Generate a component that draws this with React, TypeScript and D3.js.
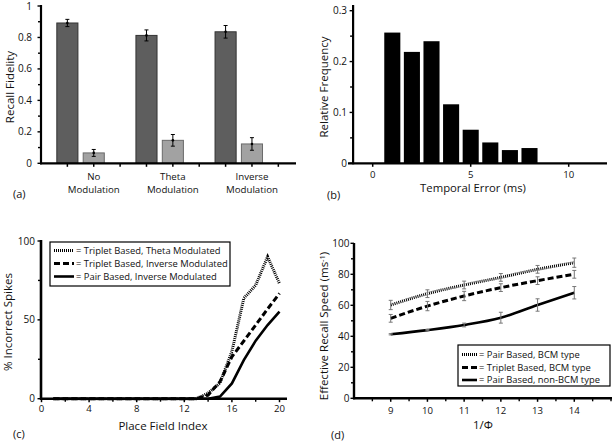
import React, { useEffect, useRef } from 'react';
import * as d3 from 'd3';

// (a) recall fidelity per modulation type
const groupLabels = [['No', 'Modulation'], ['Theta', 'Modulation'], ['Inverse', 'Modulation']];
const fidelityDark = [0.892, 0.813, 0.836];
const fidelityDarkErr = [0.023, 0.035, 0.04];
const fidelityLight = [0.066, 0.146, 0.123];
const fidelityLightErr = [0.022, 0.037, 0.04];

// (b) temporal error histogram
const errorBins = [1, 2, 3, 4, 5, 6, 7, 8];
const errorFreq = [0.257, 0.219, 0.24, 0.116, 0.066, 0.041, 0.026, 0.03];

// (c) incorrect spikes per place field
const placeIndex = [1, 2, 3, 4, 5, 6, 7, 8, 9, 10, 11, 12, 13, 14, 15, 16, 17, 18, 19, 20];
const tripletTheta = [0, 0, 0, 0, 0, 0, 0, 0, 0, 0, 0, 0, 0, 3.5, 10, 30, 63.7, 72, 90, 73];
const tripletInverse = [0, 0, 0, 0, 0, 0, 0, 0, 0, 0, 0, 0, 0, 2.3, 10.8, 26.6, 36.6, 46.7, 56.9, 66.8];
const pairInverse = [0, 0, 0, 0, 0, 0, 0, 0, 0, 0, 0, 0, 0, 0, 1.3, 9.7, 24.5, 36.8, 46.7, 55.2];
const legendC = ['= Triplet Based, Theta Modulated', '= Triplet Based, Inverse Modulated', '= Pair Based, Inverse Modulated'];

// (d) recall speed vs 1/phi
const phiInv = [9, 10, 11, 12, 13, 14];
const pairBCM = [60.2, 67.5, 73.1, 78, 83.2, 87.5];
const pairBCMErr = [3, 2.5, 2.5, 2.5, 2.5, 3];
const tripletBCM = [51.6, 59.5, 66, 71.4, 75.9, 80];
const tripletBCMErr = [2.5, 3, 3, 2.5, 2.5, 2.5];
const pairNonBCM = [41.3, 44, 47.3, 52, 60.2, 68.1];
const pairNonBCMErr = [0.4, 0.4, 1.2, 3.5, 4, 4];
const legendD = ['= Pair Based, BCM type', '= Triplet Based, BCM type', '= Pair Based, non-BCM type'];

const FONT = '"Open Sans", sans-serif';
const lineStyles = [
  { dash: '1,1', width: 3 },
  { dash: '6,3', width: 3 },
  { dash: null, width: 2.6 },
];

type G = d3.Selection<SVGGElement, unknown, null, undefined>;

const text = (g: G, x: number, y: number, s: string, size: number, anchor = 'start') =>
  g.append('text').attr('x', x).attr('y', y).attr('font-size', size)
    .attr('text-anchor', anchor).attr('font-family', FONT).attr('fill', '#111').text(s);

const vText = (g: G, cx: number, cy: number, s: string, size: number) =>
  g.append('text').attr('transform', `translate(${cx},${cy}) rotate(-90)`)
    .attr('text-anchor', 'middle').attr('dy', '0.35em').attr('font-size', size)
    .attr('font-family', FONT).attr('fill', '#111').text(s);

const hLine = (g: G, x1: number, x2: number, y: number, w: number) =>
  g.append('line').attr('x1', x1).attr('x2', x2).attr('y1', y).attr('y2', y)
    .attr('stroke', '#000').attr('stroke-width', w);

const vLine = (g: G, x: number, y1: number, y2: number, w: number) =>
  g.append('line').attr('x1', x).attr('x2', x).attr('y1', y1).attr('y2', y2)
    .attr('stroke', '#000').attr('stroke-width', w);

function yTicks(g: G, y: d3.ScaleLinear<number, number>, x0: number, major: number[], minor: number[], fmt: (v: number) => string, labelX: number) {
  major.forEach(v => {
    hLine(g, x0 - 3.5, x0, y(v), 1.4);
    text(g, labelX, y(v) + 3.5, fmt(v), 10, 'end');
  });
  minor.forEach(v => hLine(g, x0 - 3, x0, y(v), 1.4));
}

function xTicks(g: G, x: d3.ScaleLinear<number, number>, y0: number, major: number[], minor: number[], labelY: number, labels = true) {
  major.forEach(v => {
    vLine(g, x(v), y0, y0 + 3.5, 1.5);
    if (labels) text(g, x(v), labelY, String(v), 9.6, 'middle');
  });
  minor.forEach(v => vLine(g, x(v), y0, y0 + 3, 1.4));
}

function panelA(g: G) {
  const x = d3.scaleLinear().domain([0, 9.67]).range([41, 296]);
  const y = d3.scaleLinear().domain([0, 1]).range([163.3, 6]);
  const bw = x(0.8) - x(0);
  const bars = [
    ...fidelityDark.map((v, i) => ({ pos: 1 + i * 3, v, e: fidelityDarkErr[i], fill: '#5e5e5e', stroke: '#333' })),
    ...fidelityLight.map((v, i) => ({ pos: 2 + i * 3, v, e: fidelityLightErr[i], fill: '#a2a2a2', stroke: '#6a6a6a' })),
  ];
  g.selectAll('rect.bar').data(bars).join('rect')
    .attr('x', d => x(d.pos) - bw / 2).attr('width', bw)
    .attr('y', d => y(d.v)).attr('height', d => y(0) - y(d.v))
    .attr('fill', d => d.fill).attr('stroke', d => d.stroke).attr('stroke-width', 1);
  bars.forEach(d => {
    const cx = x(d.pos);
    vLine(g, cx, y(d.v + d.e), y(d.v - d.e), 1);
    hLine(g, cx - 2, cx + 2, y(d.v + d.e), 1);
    hLine(g, cx - 2, cx + 2, y(d.v - d.e), 1);
    g.append('circle').attr('cx', cx).attr('cy', y(d.v)).attr('r', 1.3).attr('fill', '#000');
  });
  vLine(g, x(0), 5, y(0) + 1, 2.2);
  hLine(g, x(0) - 1, 296, y(0), 2.2);
  yTicks(g, y, x(0), [0, 0.2, 0.4, 0.6, 0.8, 1], [0.1, 0.3, 0.5, 0.7, 0.9], v => String(+v.toFixed(1)), 32);
  xTicks(g, x, y(0), [1, 2, 3, 4, 5, 6, 7, 8, 9], [], 0, false);
  groupLabels.forEach((ls, i) => {
    text(g, x(2 + i * 3), 179.5, ls[0], 9.7, 'middle');
    text(g, x(2 + i * 3), 193, ls[1], 9.7, 'middle');
  });
  vText(g, 9.5, 87, 'Recall Fidelity', 11.5);
  text(g, 13, 198, '(a)', 11);
}

function panelB(g: G) {
  const x = d3.scaleLinear().domain([0, 10]).range([372.7, 568.7]);
  const y = d3.scaleLinear().domain([0, 0.3]).range([163.3, 10.7]);
  const bw = x(0.82) - x(0);
  g.selectAll('rect.hist').data(errorBins).join('rect')
    .attr('x', (d: number) => x(d) - bw / 2).attr('width', bw)
    .attr('y', (_d: number, i: number) => y(errorFreq[i]))
    .attr('height', (_d: number, i: number) => y(0) - y(errorFreq[i]))
    .attr('fill', '#000');
  vLine(g, x(-1), 5, y(0) + 1, 2.2);
  hLine(g, 348, 607, y(0), 2.2);
  yTicks(g, y, x(-1), [0, 0.1, 0.2, 0.3], [0.05, 0.15, 0.25], v => String(+v.toFixed(1)), 347);
  xTicks(g, x, y(0), [0, 5, 10], [], 177.5);
  text(g, 473, 192, 'Temporal Error (ms)', 11.3, 'middle');
  vText(g, 323.5, 87, 'Relative Frequency', 11.5);
  text(g, 327, 199, '(b)', 11);
}

function drawLegend(g: G, x0: number, y0: number, w: number, h: number, rows: number[], labels: string[], sampleW: number, size: number) {
  g.append('rect').attr('x', x0).attr('y', y0).attr('width', w).attr('height', h)
    .attr('fill', '#fff').attr('stroke', '#000').attr('stroke-width', 1.2);
  labels.forEach((s, i) => {
    const st = lineStyles[i];
    const ln = hLine(g, x0 + 4, x0 + 4 + sampleW, rows[i], st.width);
    if (st.dash) ln.attr('stroke-dasharray', st.dash);
    text(g, x0 + 6 + sampleW, rows[i] + 3.4, s, size);
  });
}

function panelC(g: G) {
  const x = d3.scaleLinear().domain([0, 20]).range([41.5, 279.5]);
  const y = d3.scaleLinear().domain([0, 100]).range([398.7, 241]);
  const series = [tripletTheta, tripletInverse, pairInverse];
  const line = d3.line<number>().x((_d, i) => x(placeIndex[i])).y(d => y(d));
  series.slice().reverse().forEach((s, ri) => {
    const st = lineStyles[2 - ri];
    const p = g.append('path').datum(s).attr('d', line).attr('fill', 'none')
      .attr('stroke', '#000').attr('stroke-width', st.width);
    if (st.dash) p.attr('stroke-dasharray', st.dash);
  });
  vLine(g, x(0) - 0.5, 240, y(0) + 1, 2.6);
  hLine(g, x(0) - 1.5, 287, y(0), 2.6);
  yTicks(g, y, x(0) - 0.5, [0, 50, 100], [25, 75], v => String(v), 35);
  xTicks(g, x, y(0), [0, 4, 8, 12, 16, 20], [2, 6, 10, 14, 18], 411.5);
  drawLegend(g, 50, 242, 180, 44, [250.5, 263.5, 276.5], legendC, 20, 9.4);
  text(g, 163, 430, 'Place Field Index', 11.5, 'middle');
  vText(g, 8, 322, '% Incorrect Spikes', 11.5);
  text(g, 13, 438, '(c)', 11);
}

function panelD(g: G) {
  const x = d3.scaleLinear().domain([8, 15]).range([354, 611]);
  const y = d3.scaleLinear().domain([0, 100]).range([398.3, 243.3]);
  const series = [
    { v: pairBCM, e: pairBCMErr },
    { v: tripletBCM, e: tripletBCMErr },
    { v: pairNonBCM, e: pairNonBCMErr },
  ];
  const line = d3.line<number>().x((_d, i) => x(phiInv[i])).y(d => y(d)).curve(d3.curveMonotoneX);
  series.forEach((s, si) => {
    const st = lineStyles[si];
    const p = g.append('path').datum(s.v).attr('d', line).attr('fill', 'none')
      .attr('stroke', '#000').attr('stroke-width', st.width);
    if (st.dash) p.attr('stroke-dasharray', st.dash);
  });
  series.forEach(s => {
    s.v.forEach((v, i) => {
      const cx = x(phiInv[i]);
      const t = y(v + s.e[i]);
      const b = y(v - s.e[i]);
      g.append('line').attr('x1', cx).attr('x2', cx).attr('y1', t).attr('y2', b)
        .attr('stroke', '#777').attr('stroke-width', 1);
      [t, b].forEach(yy => g.append('line').attr('x1', cx - 2).attr('x2', cx + 2)
        .attr('y1', yy).attr('y2', yy).attr('stroke', '#777').attr('stroke-width', 1));
    });
  });
  vLine(g, x(8), 243, y(0) + 1, 2.4);
  hLine(g, x(8) - 1, 612, y(0), 2.4);
  yTicks(g, y, x(8), [0, 20, 40, 60, 80, 100], [10, 30, 50, 70, 90], v => String(v), 349.5);
  xTicks(g, x, y(0), phiInv, [8.5, 9.5, 10.5, 11.5, 12.5, 13.5, 14.5, 15], 414);
  drawLegend(g, 458, 345, 152, 41, [354.5, 367.5, 380], legendD, 15, 9.4);
  text(g, 483, 429, '1/\u03A6', 11.5, 'middle');
  const yl = g.append('text').attr('transform', 'translate(324,326) rotate(-90)')
    .attr('text-anchor', 'middle').attr('dy', '0.35em').attr('font-size', 11.5)
    .attr('font-family', FONT).attr('fill', '#111');
  yl.append('tspan').text('Effective Recall Speed (ms');
  yl.append('tspan').attr('font-size', 7.5).attr('dy', '-0.45em').text('-1');
  yl.append('tspan').attr('dy', '0.3em').text(')');
  text(g, 331, 439, '(d)', 11);
}

const App: React.FC = () => {
  const svgRef = useRef<SVGSVGElement>(null);

  useEffect(() => {
    if (!svgRef.current) return;
    const svg = d3.select(svgRef.current);
    svg.selectAll('*').remove();
    svg.append('rect').attr('width', 616).attr('height', 442).attr('fill', '#fff');
    panelA(svg.append('g') as unknown as G);
    panelB(svg.append('g') as unknown as G);
    panelC(svg.append('g') as unknown as G);
    panelD(svg.append('g') as unknown as G);
  }, []);

  return (
    <svg ref={svgRef} width={616} height={442}
      style={{ position: 'absolute', left: 0, top: 0, display: 'block' }} />
  );
};

export default App;
